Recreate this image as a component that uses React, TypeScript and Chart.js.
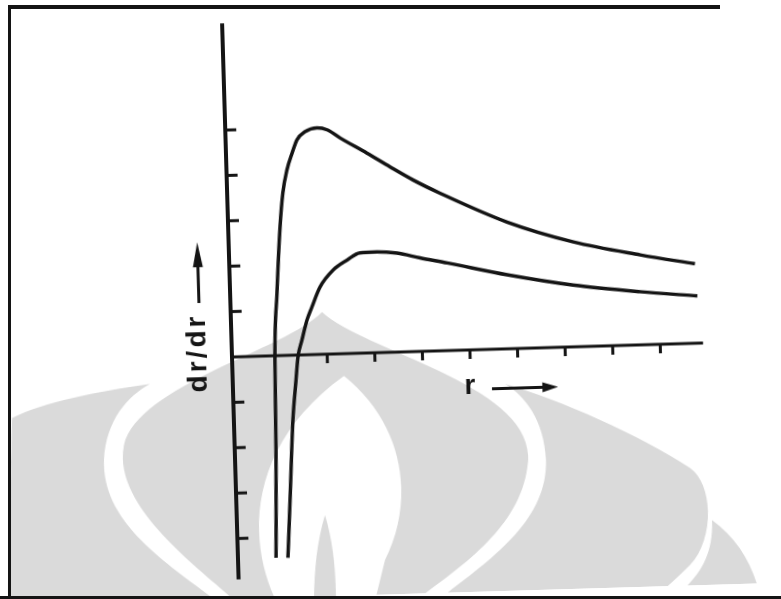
import React, { useEffect, useRef } from "react";
import { Chart, registerables } from "chart.js";

Chart.register(...registerables);

// Upper curve (chart units: x per tick, y per tick)
const upperX = [0.8, 0.866, 0.9, 0.985, 1.09, 1.17, 1.27, 1.39, 1.5, 1.67, 1.93, 2.14, 2.41, 2.96, 3.44, 3.91, 4.47, 5.86, 7.24, 8.64, 9.78];
const upperY = [-4.45, -2.08, -0.09, 1.38, 2.83, 3.58, 4.08, 4.45, 4.74, 4.91, 4.99, 4.94, 4.75, 4.4, 4.08, 3.78, 3.47, 2.79, 2.31, 1.98, 1.75];
// Lower curve
const lowerX = [1.05, 1.13, 1.24, 1.33, 1.386, 1.48, 1.6, 1.71, 1.89, 2.18, 2.48, 2.75, 3.11, 3.53, 4.01, 4.58, 5.83, 7.21, 8.61, 9.81];
const lowerY = [-4.46, -3.19, -1.43, -0.55, -0.04, 0.33, 0.77, 1.05, 1.48, 1.85, 2.06, 2.21, 2.22, 2.18, 2.06, 1.93, 1.63, 1.36, 1.17, 1.04];

// Axis ticks
const xTicks = [2, 3, 4, 5, 6, 7, 8, 9];
const yTicks = [-4, -3, -2, -1, 1, 2, 3, 4, 5];
const xAxisEnd = 9.9;
const yAxisTop = 7.35;
const yAxisBottom = -4.9;

// Labels
const yLabel = "dr/dr";
const xLabel = "r";

const INK = "#141414";
const WATERMARK = "#dadada";
const ROT_DEG = 1.7;
const ORIGIN_X = 232;
const ORIGIN_Y = 357;

// Background watermark (scan artefact), drawn in page pixels
const watermarkPlugin = {
  id: "watermarkPlugin",
  beforeDraw(chart: any) {
    const ctx = chart.ctx as CanvasRenderingContext2D;
    ctx.save();
    ctx.translate(ORIGIN_X, ORIGIN_Y);
    ctx.rotate((ROT_DEG * Math.PI) / 180);
    ctx.translate(-ORIGIN_X, -ORIGIN_Y);
    ctx.fillStyle = WATERMARK;
    // central onion
    ctx.beginPath();
    ctx.moveTo(322, 312);
    ctx.bezierCurveTo(365, 352, 535, 385, 528, 462);
    ctx.bezierCurveTo(522, 530, 455, 570, 410, 605);
    ctx.lineTo(240, 605);
    ctx.bezierCurveTo(195, 565, 112, 505, 124, 445);
    ctx.bezierCurveTo(138, 385, 285, 350, 322, 312);
    ctx.closePath();
    ctx.fill();
    // right outer lobe
    ctx.beginPath();
    ctx.moveTo(505, 384);
    ctx.bezierCurveTo(560, 400, 640, 435, 690, 468);
    ctx.bezierCurveTo(714, 485, 714, 540, 690, 565);
    ctx.bezierCurveTo(675, 580, 660, 592, 650, 605);
    ctx.lineTo(432, 605);
    ctx.bezierCurveTo(482, 565, 548, 525, 546, 460);
    ctx.bezierCurveTo(544, 420, 525, 396, 505, 384);
    ctx.closePath();
    ctx.fill();
    // right outermost lobe
    ctx.beginPath();
    ctx.moveTo(712, 520);
    ctx.bezierCurveTo(740, 540, 756, 570, 762, 605);
    ctx.lineTo(665, 605);
    ctx.bezierCurveTo(690, 585, 714, 565, 712, 520);
    ctx.closePath();
    ctx.fill();
    // left outer lobe
    ctx.beginPath();
    ctx.moveTo(150, 384);
    ctx.bezierCurveTo(95, 392, 45, 402, 12, 418);
    ctx.lineTo(8, 605);
    ctx.lineTo(222, 605);
    ctx.bezierCurveTo(170, 565, 102, 525, 104, 460);
    ctx.bezierCurveTo(106, 420, 128, 396, 150, 384);
    ctx.closePath();
    ctx.fill();
    // white inner flame
    ctx.fillStyle = "#ffffff";
    ctx.beginPath();
    ctx.moveTo(344, 376);
    ctx.bezierCurveTo(405, 425, 415, 500, 385, 560);
    ctx.lineTo(374, 605);
    ctx.lineTo(278, 605);
    ctx.bezierCurveTo(245, 540, 248, 445, 344, 376);
    ctx.closePath();
    ctx.fill();
    // central spike
    ctx.fillStyle = WATERMARK;
    ctx.beginPath();
    ctx.moveTo(325, 515);
    ctx.bezierCurveTo(334, 545, 336, 575, 336, 605);
    ctx.lineTo(314, 605);
    ctx.bezierCurveTo(314, 575, 316, 545, 325, 515);
    ctx.closePath();
    ctx.fill();
    ctx.restore();
  },
};

const axesPlugin = {
  id: "axesPlugin",
  beforeDatasetsDraw(chart: any) {
    const { ctx, scales } = chart;
    const X = (v: number) => scales.x.getPixelForValue(v);
    const Y = (v: number) => scales.y.getPixelForValue(v);
    ctx.save();
    ctx.strokeStyle = INK;
    ctx.fillStyle = INK;
    ctx.lineCap = "butt";
    // y axis
    ctx.lineWidth = 4;
    ctx.beginPath();
    ctx.moveTo(X(0), Y(yAxisTop));
    ctx.lineTo(X(0), Y(yAxisBottom));
    ctx.stroke();
    // x axis
    ctx.lineWidth = 3;
    ctx.beginPath();
    ctx.moveTo(X(0), Y(0));
    ctx.lineTo(X(xAxisEnd), Y(0));
    ctx.stroke();
    // y ticks (pointing right)
    yTicks.forEach((t) => {
      ctx.beginPath();
      ctx.moveTo(X(0), Y(t));
      ctx.lineTo(X(0) + 11, Y(t));
      ctx.stroke();
    });
    // x ticks (pointing down)
    xTicks.forEach((t) => {
      ctx.beginPath();
      ctx.moveTo(X(t), Y(0));
      ctx.lineTo(X(t), Y(0) + 9);
      ctx.stroke();
    });

    // y label with upward arrow
    ctx.save();
    ctx.translate(X(-0.7), Y(0.11));
    ctx.rotate(-Math.PI / 2);
    ctx.font = 'bold 28px "Liberation Sans", Arial, sans-serif';
    (ctx as any).letterSpacing = "3px";
    ctx.textAlign = "center";
    ctx.textBaseline = "middle";
    ctx.fillText(yLabel, 0, 0);
    ctx.restore();
    const ax = X(-0.66);
    ctx.lineWidth = 3;
    ctx.beginPath();
    ctx.moveTo(ax, Y(1.21));
    ctx.lineTo(ax, Y(2.2));
    ctx.stroke();
    ctx.beginPath();
    ctx.moveTo(ax, Y(2.55));
    ctx.lineTo(ax - 5, Y(2.0));
    ctx.lineTo(ax + 5, Y(2.0));
    ctx.closePath();
    ctx.fill();

    // x label with right arrow
    ctx.font = 'bold 28px "Liberation Sans", Arial, sans-serif';
    (ctx as any).letterSpacing = "0px";
    ctx.textAlign = "center";
    ctx.textBaseline = "middle";
    ctx.fillText(xLabel, X(4.98), Y(-0.8));
    const ay = Y(-0.87);
    ctx.beginPath();
    ctx.moveTo(X(5.44), ay);
    ctx.lineTo(X(6.6), ay);
    ctx.stroke();
    ctx.beginPath();
    ctx.moveTo(X(6.83), ay);
    ctx.lineTo(X(6.5), ay - 5);
    ctx.lineTo(X(6.5), ay + 5);
    ctx.closePath();
    ctx.fill();
    ctx.restore();
  },
};

export default function App() {
  const ref = useRef<HTMLCanvasElement | null>(null);
  useEffect(() => {
    if (!ref.current) return;
    const chart = new Chart(ref.current, {
      type: "scatter",
      data: {
        datasets: [
          {
            data: upperX.map((x, i) => ({ x, y: upperY[i] })),
            showLine: true,
            borderColor: INK,
            borderWidth: 3.5,
            pointRadius: 0,
            cubicInterpolationMode: "monotone",
          },
          {
            data: lowerX.map((x, i) => ({ x, y: lowerY[i] })),
            showLine: true,
            borderColor: INK,
            borderWidth: 3.5,
            pointRadius: 0,
            cubicInterpolationMode: "monotone",
          },
        ],
      },
      options: {
        responsive: false,
        animation: false,
        devicePixelRatio: 1,
        layout: { padding: 0 },
        plugins: { legend: { display: false }, tooltip: { enabled: false } },
        scales: {
          x: { type: "linear", display: false, min: -ORIGIN_X / 47.6, max: (781 - ORIGIN_X) / 47.6 },
          y: { type: "linear", display: false, min: -(599 - ORIGIN_Y) / 45.4, max: ORIGIN_Y / 45.4 },
        },
      },
      plugins: [watermarkPlugin, axesPlugin],
    } as any);
    return () => chart.destroy();
  }, []);

  return (
    <div style={{ position: "fixed", left: 0, top: 0, width: 781, height: 599, background: "#fff", overflow: "hidden" }}>
      <canvas
        ref={ref}
        width={781}
        height={599}
        style={{
          position: "absolute",
          left: 0,
          top: 0,
          width: 781,
          height: 599,
          transform: `rotate(-${ROT_DEG}deg)`,
          transformOrigin: `${ORIGIN_X}px ${ORIGIN_Y}px`,
        }}
      />
      <div style={{ position: "absolute", left: 8, top: 5, width: 712, height: 4, background: INK }} />
      <div style={{ position: "absolute", left: 8, top: 5, width: 3, height: 594, background: INK }} />
      <div style={{ position: "absolute", left: 0, top: 596, width: 781, height: 3, background: INK }} />
    </div>
  );
}
